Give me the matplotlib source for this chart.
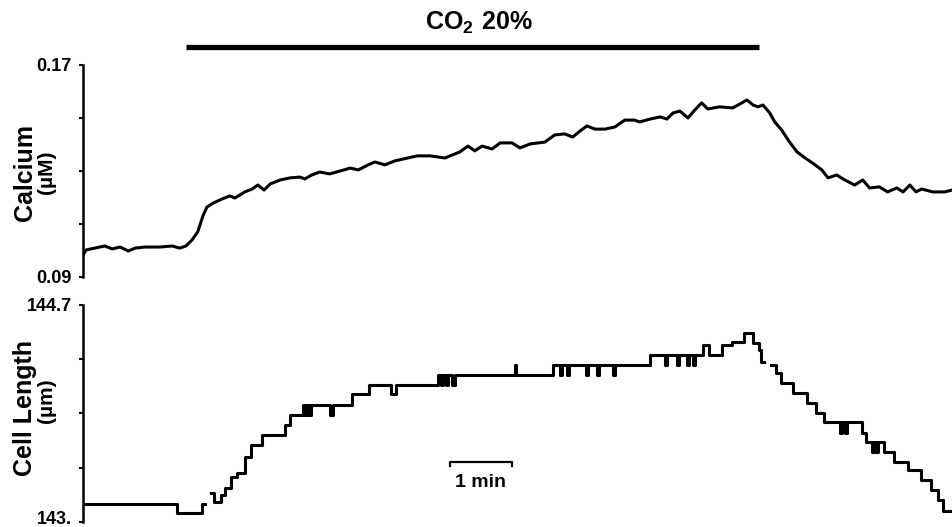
import numpy as np
import matplotlib
matplotlib.use("Agg")
import matplotlib.pyplot as plt
from matplotlib.transforms import ScaledTranslation

plt.rcParams['font.family'] = ['Liberation Sans', 'DejaVu Sans']
plt.rcParams['mathtext.fontset'] = 'custom'
plt.rcParams['mathtext.bf'] = 'Liberation Sans:bold'
plt.rcParams['mathtext.rm'] = 'Liberation Sans'

# ---- data (time in minutes) ----
ca_time = [0.00, 0.05, 0.19, 0.35, 0.47, 0.60, 0.73, 0.84, 1.00, 1.24, 1.44, 1.56, 1.66,
           1.76, 1.85, 1.94, 2.00, 2.10, 2.24, 2.37, 2.45, 2.61, 2.73, 2.82, 2.92, 3.02,
           3.18, 3.34, 3.50, 3.58, 3.69, 3.82, 3.98, 4.15, 4.31, 4.44, 4.60, 4.71, 4.87,
           5.03, 5.24, 5.39, 5.60, 5.84, 6.08, 6.21, 6.32, 6.44, 6.60, 6.73, 6.92, 7.05,
           7.21, 7.45, 7.61, 7.77, 7.90, 8.02, 8.13, 8.26, 8.42, 8.58, 8.74, 8.90, 8.98,
           9.15, 9.31, 9.42, 9.52, 9.63, 9.76, 9.87, 9.98, 10.08, 10.27, 10.48, 10.63,
           10.71, 10.81, 10.89, 10.97, 11.08, 11.16, 11.27, 11.40, 11.52, 11.65, 11.77,
           11.92, 12.02, 12.16, 12.29, 12.45, 12.58, 12.69, 12.85, 12.98, 13.13, 13.23,
           13.34, 13.44, 13.53, 13.71, 13.90, 14.02]
ca_value = [0.0983, 0.1002, 0.1009, 0.1017, 0.1006, 0.1013, 0.0998, 0.1009, 0.1013, 0.1013,
            0.1017, 0.1009, 0.1017, 0.1040, 0.1070, 0.1134, 0.1164, 0.1179, 0.1194, 0.1206,
            0.1198, 0.1221, 0.1232, 0.1247, 0.1228, 0.1251, 0.1266, 0.1274, 0.1277, 0.1270,
            0.1285, 0.1296, 0.1289, 0.1300, 0.1311, 0.1304, 0.1323, 0.1334, 0.1323, 0.1338,
            0.1349, 0.1357, 0.1357, 0.1349, 0.1372, 0.1394, 0.1376, 0.1394, 0.1383, 0.1406,
            0.1406, 0.1387, 0.1402, 0.1409, 0.1436, 0.1440, 0.1428, 0.1451, 0.1470, 0.1458,
            0.1458, 0.1466, 0.1492, 0.1492, 0.1485, 0.1496, 0.1504, 0.1496, 0.1519, 0.1526,
            0.1500, 0.1530, 0.1557, 0.1534, 0.1542, 0.1538, 0.1557, 0.1568, 0.1549, 0.1542,
            0.1549, 0.1519, 0.1485, 0.1455, 0.1409, 0.1372, 0.1349, 0.1330, 0.1304, 0.1274,
            0.1285, 0.1266, 0.1247, 0.1266, 0.1236, 0.1240, 0.1221, 0.1236, 0.1221, 0.1247,
            0.1221, 0.1232, 0.1221, 0.1221, 0.1228]

len_time = [0.00, 1.52, 1.92, 1.97, 2.06, 2.11, 2.23, 2.29, 2.39, 2.48, 2.61, 2.71, 2.89,
            3.26, 3.34, 3.55, 3.58, 3.61, 3.65, 3.68, 3.98, 4.03, 4.34, 4.61, 4.97, 5.05,
            5.73, 5.77, 5.81, 5.85, 5.89, 5.95, 6.00, 6.97, 6.99, 7.58, 7.70, 7.73, 7.81,
            7.84, 8.12, 8.15, 8.29, 8.32, 8.55, 8.58, 9.15, 9.39, 9.42, 9.58, 9.61, 9.74,
            9.77, 9.84, 9.87, 10.00, 10.10, 10.31, 10.47, 10.66, 10.81, 10.90, 10.94, 10.98,
            11.10, 11.18, 11.26, 11.45, 11.68, 11.82, 11.95, 12.21, 12.24, 12.29, 12.32,
            12.56, 12.63, 12.73, 12.76, 12.79, 12.82, 12.92, 13.08, 13.31, 13.52, 13.68,
            13.79, 13.87, 14.02]
len_value = [143.14, 143.07, 143.14, np.nan, 143.23, 143.16, 143.21, 143.27, 143.35, 143.38,
             143.51, 143.60, 143.68, 143.76, 143.84, 143.92, 143.84, 143.92, 143.84, 143.92,
             143.84, 143.92, 144.00, 144.07, 144.00, 144.07, 144.15, 144.07, 144.15, 144.07,
             144.15, 144.07, 144.15, 144.23, 144.15, 144.23, 144.15, 144.23, 144.15, 144.23,
             144.15, 144.23, 144.15, 144.23, 144.15, 144.23, 144.31, 144.23, 144.31, 144.23,
             144.31, 144.23, 144.31, 144.23, 144.31, 144.39, 144.31, 144.39, 144.41, 144.48,
             144.40, 144.35, 144.25, np.nan, 144.23, 144.17, 144.09, 144.01, 143.93, 143.85,
             143.78, 143.70, 143.78, 143.70, 143.78, 143.70, 143.63, 143.55, 143.63, 143.55,
             143.63, 143.55, 143.47, 143.41, 143.33, 143.25, 143.17, 143.09, 143.09]

ca_ticks = [0.09, 0.11, 0.13, 0.15, 0.17]
ca_ticklabels = ["0.09", "", "", "", "0.17"]
len_ticks = [143.0, 143.425, 143.85, 144.275, 144.7]
len_ticklabels = ["143.", "", "", "", "144.7"]

co2_on, co2_off = 1.66, 10.90
co2_label = r"$\mathbf{CO_2\ 20\%}$"
scale_start, scale_len = 5.92, 1.0
scale_label = "1 min"

# ---- figure ----
fig = plt.figure(figsize=(9.52, 5.27), dpi=100)
ax1 = fig.add_axes([0.0872, 0.4744, 0.9128, 0.4023])
ax2 = fig.add_axes([0.0872, 0.0095, 0.9128, 0.4118])

lw = 2.2
ax1.plot(ca_time, ca_value, color='black', lw=lw, solid_joinstyle='round')
ax2.plot(len_time, len_value, color='black', lw=lw, drawstyle='steps-post')

for ax, ticks, labels, ylim in [(ax1, ca_ticks, ca_ticklabels, (0.09, 0.17)),
                                (ax2, len_ticks, len_ticklabels, (143.0, 144.7))]:
    ax.set_xlim(0, 14.02)
    ax.set_ylim(*ylim)
    ax.set_yticks(ticks)
    ax.set_yticklabels(labels, fontsize=13, fontweight='bold')
    ax.tick_params(axis='y', direction='out', length=3, width=1.5, pad=5)
    ax.set_xticks([])
    for s in ['top', 'right', 'bottom']:
        ax.spines[s].set_visible(False)
    ax.spines['left'].set_linewidth(1.8)
    ax.patch.set_alpha(0)

# nudge the bottom-most tick label up so it stays inside the figure
lab = ax2.get_yticklabels()[0]
lab.set_transform(lab.get_transform() + ScaledTranslation(0, 3 / 72, fig.dpi_scale_trans))

# CO2 bar and label
ax1.plot([co2_on, co2_off], [0.1768, 0.1768], color='black', lw=3.8, clip_on=False,
         solid_capstyle='butt')
ax1.text((co2_on + co2_off) / 2 + 0.1, 0.1858, co2_label, ha='center', va='center',
         fontsize=18)

# axis labels
fig.text(0.026, 0.673, "Calcium", rotation=90, ha='center', va='center',
         fontsize=18, fontweight='bold')
fig.text(0.049, 0.673, "(µM)", rotation=90, ha='center', va='center',
         fontsize=15, fontweight='bold')
fig.text(0.026, 0.225, "Cell Length", rotation=90, ha='center', va='center',
         fontsize=18, fontweight='bold')
fig.text(0.049, 0.24, "(µm)", rotation=90, ha='center', va='center',
         fontsize=15, fontweight='bold')

# time scale bar
sb_y = 143.47
ax2.plot([scale_start, scale_start, scale_start + scale_len, scale_start + scale_len],
         [sb_y - 0.035, sb_y, sb_y, sb_y - 0.035], color='black', lw=1.6)
ax2.text(scale_start + scale_len / 2, 143.31, scale_label, ha='center', va='center',
         fontsize=14, fontweight='bold')

fig.savefig("out.png", dpi=100)
